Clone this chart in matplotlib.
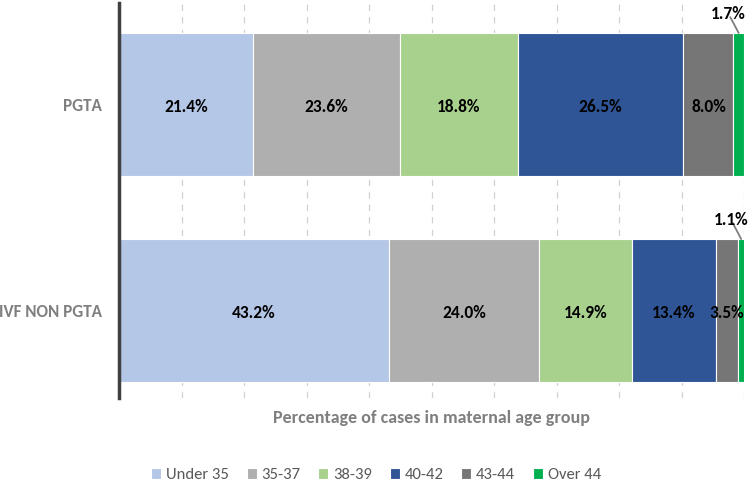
import matplotlib
matplotlib.use("Agg")
import matplotlib.pyplot as plt
from matplotlib import font_manager as fm

categories = ["IVF NON PGTA", "PGTA"]
groups = ["Under 35", "35-37", "38-39", "40-42", "43-44", "Over 44"]
pgta = [21.4, 23.6, 18.8, 26.5, 8.0, 1.7]
ivf_non = [43.2, 24.0, 14.9, 13.4, 3.5, 1.1]
colors = ["#B4C7E7", "#AFAFAF", "#A9D18E", "#2F5597", "#767676", "#00B050"]

names = {f.name for f in fm.fontManager.ttflist}
cands = ["Carlito", "Liberation Sans Narrow", "Roboto Condensed", "Open Sans Condensed",
         "Noto Sans Display", "Roboto", "Liberation Sans"]
chosen = [c for c in cands if c in names][:1]
plt.rcParams["font.family"] = chosen + ["DejaVu Sans"]

series = {"IVF NON PGTA": ivf_non, "PGTA": pgta}

fig = plt.figure(figsize=(7.52, 4.84), dpi=100)
ax = fig.add_axes([119/752, 1-398/484, (744-119)/752, 395/484])

ypos = list(range(len(categories)))
h = 0.694
lefts = [0.0]*len(categories)
for gi, g in enumerate(groups):
    vals = [series[c][gi] for c in categories]
    ax.barh(ypos, vals, left=lefts, height=h, color=colors[gi],
            edgecolor="white", linewidth=0.8, label=g, zorder=2)
    for yi, (v, l) in enumerate(zip(vals, lefts)):
        if g == "Over 44":
            xc = l + v/2
            ax.annotate(f"{v:.1f}%", xy=(xc, yi + h/2), xytext=(-10, 14),
                        textcoords="offset pixels",
                        ha="center", va="baseline", fontsize=12.5, fontweight="bold", color="black",
                        arrowprops=dict(arrowstyle="-", color="#7F7F7F", lw=1.3,
                                        patchA=None, shrinkA=2.5, shrinkB=0), zorder=3,
                        annotation_clip=False)
        else:
            ax.text(l + v/2, yi - 0.01, f"{v:.1f}%", ha="center", va="center",
                    fontsize=12.5, fontweight="bold", color="black", zorder=3)
    lefts = [l + v for l, v in zip(lefts, vals)]

ax.set_xlim(0, 100)
ax.set_ylim(-0.425, 1.493)
ax.set_yticks(ypos)
ax.set_yticklabels(categories, fontsize=12.3, fontweight="bold", color="#7F7F7F")
ax.tick_params(axis="y", length=0, pad=12)
ax.set_xticks(range(10, 101, 10))
ax.tick_params(axis="x", length=0, labelbottom=False)
ax.grid(axis="x", linestyle=(0, (5, 5)), color="#D0D0D0", linewidth=0.9, zorder=0)
for s in ["top", "right", "bottom"]:
    ax.spines[s].set_visible(False)
ax.spines["left"].set_color("#404040")
ax.spines["left"].set_linewidth(2.5)
ax.set_xlabel("Percentage of cases in maternal age group", fontsize=13,
              fontweight="bold", color="#7F7F7F", labelpad=9)

handles, labels = ax.get_legend_handles_labels()
fig.legend(handles, labels, loc="center", bbox_to_anchor=(0.5, 1-475/484), ncol=6,
           frameon=False, fontsize=12, handlelength=0.6, handleheight=0.6,
           handletextpad=0.3, columnspacing=1.05, labelcolor="#595959")

fig.savefig("out.png", dpi=100)
